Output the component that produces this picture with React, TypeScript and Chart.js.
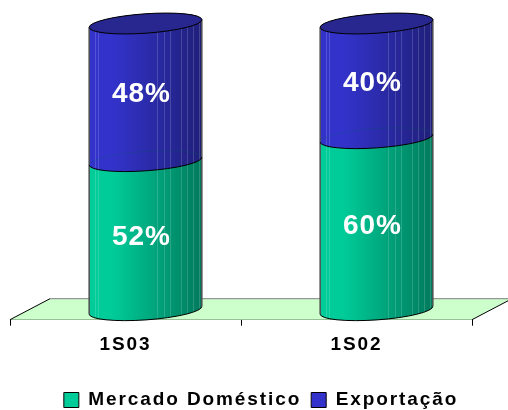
import React, { useEffect, useRef } from "react";
import { Chart, registerables } from "chart.js";

Chart.register(...registerables);

const categories = ["1S03", "1S02"];
const mercadoDomestico = [52, 60];
const exportacao = [48, 40];
const seriesNames = ["Mercado Doméstico", "Exportação"];
const seriesColors = ["#00cc99", "#3333cc"];
const shadeDark = ["#007a5c", "#1f1f7a"];
const capColor = "#27278f";

const FONT = '"Liberation Sans", Arial, sans-serif';
const DEPTH_X = 40;
const DEPTH_Y = 21;
const LINE_OFFSETS = [0.05, 0.08, 0.6, 0.66, 0.72, 0.81, 0.87, 0.92, 0.97];
const SPACING = "1.9px";

function setSpacing(ctx: any, s: string) {
  ctx.letterSpacing = s;
}

function drawCylinders(chart: any, i: number, last: boolean) {
  const { ctx } = chart;
  const meta = chart.getDatasetMeta(i);
  const dx = DEPTH_X / 2;
  const dy = -DEPTH_Y / 2 + 1;
  for (const bar of meta.data) {
    const p = bar.getProps(["x", "y", "base", "width"], true);
    const cx = p.x + dx;
    const rx = p.width / 2;
    const ry = 9.7;
    const rot = (-4 * Math.PI) / 180;
    const top = p.y + dy;
    const bot = p.base + dy;
    const g = ctx.createLinearGradient(cx - rx, 0, cx + rx, 0);
    g.addColorStop(0, seriesColors[i]);
    g.addColorStop(0.2, seriesColors[i]);
    g.addColorStop(1, shadeDark[i]);
    ctx.save();
    ctx.beginPath();
    ctx.ellipse(cx, top, rx, ry, rot, Math.PI, 2 * Math.PI);
    ctx.ellipse(cx, bot, rx, ry, rot, 0, Math.PI);
    ctx.closePath();
    ctx.fillStyle = g;
    ctx.fill();
    ctx.clip();
    ctx.strokeStyle = "rgba(255,255,255,0.16)";
    ctx.lineWidth = 1;
    ctx.beginPath();
    for (const f of LINE_OFFSETS) {
      const x = Math.round(cx - rx + f * 2 * rx) + 0.5;
      ctx.moveTo(x, top - 20);
      ctx.lineTo(x, bot + 20);
    }
    ctx.stroke();
    ctx.restore();

    ctx.save();
    ctx.lineWidth = 1;
    ctx.strokeStyle = "#000";
    ctx.beginPath();
    ctx.ellipse(cx, bot, rx, ry, rot, 0, Math.PI);
    ctx.stroke();
    if (i > 0) {
      ctx.strokeStyle = "rgba(0,90,90,0.25)";
      ctx.beginPath();
      ctx.ellipse(cx, bot, rx, ry, rot, Math.PI, 2 * Math.PI);
      ctx.stroke();
    }
    ctx.strokeStyle = "#505050";
    ctx.lineWidth = 1.5;
    const c = Math.cos(rot) * rx;
    const s = Math.sin(rot) * rx;
    ctx.beginPath();
    ctx.moveTo(cx - c, top - s);
    ctx.lineTo(cx - c, bot - s);
    ctx.moveTo(cx + c, top + s);
    ctx.lineTo(cx + c, bot + s);
    ctx.stroke();
    if (last) {
      ctx.beginPath();
      ctx.ellipse(cx, top, rx, ry, rot, 0, 2 * Math.PI);
      ctx.fillStyle = capColor;
      ctx.fill();
      ctx.lineWidth = 1;
      ctx.strokeStyle = "#000";
      ctx.stroke();
    }
    ctx.restore();
  }
}

const cylinderPlugin = {
  id: "cylinder",
  beforeLayout(chart: any) {
    setSpacing(chart.ctx, SPACING);
  },
  afterLayout(chart: any) {
    const l = chart.legend;
    if (l) {
      l.left += 20;
      l.right += 20;
      l.top += 16;
      l.bottom += 16;
    }
  },
  beforeDraw(chart: any) {
    setSpacing(chart.ctx, SPACING);
  },
  beforeDatasetsDraw(chart: any) {
    const { ctx, chartArea: a } = chart;
    ctx.save();
    ctx.beginPath();
    ctx.moveTo(a.left, a.bottom);
    ctx.lineTo(a.left + DEPTH_X, a.bottom - DEPTH_Y);
    ctx.lineTo(a.right + DEPTH_X, a.bottom - DEPTH_Y);
    ctx.lineTo(a.right, a.bottom);
    ctx.closePath();
    ctx.fillStyle = "#ccffcc";
    ctx.fill();
    ctx.lineWidth = 1;
    ctx.strokeStyle = "#808080";
    ctx.beginPath();
    ctx.moveTo(a.left + DEPTH_X, a.bottom - DEPTH_Y);
    ctx.lineTo(a.right + DEPTH_X, a.bottom - DEPTH_Y);
    ctx.stroke();
    ctx.strokeStyle = "#000";
    ctx.beginPath();
    ctx.moveTo(a.left, a.bottom);
    ctx.lineTo(a.left + DEPTH_X, a.bottom - DEPTH_Y);
    ctx.moveTo(a.right, a.bottom);
    ctx.lineTo(a.right + DEPTH_X, a.bottom - DEPTH_Y);
    ctx.stroke();
    ctx.restore();
    const n = chart.data.datasets.length;
    for (let i = 0; i < n; i++) drawCylinders(chart, i, i === n - 1);
  },
  beforeDatasetDraw() {
    return false;
  },
  afterDatasetsDraw(chart: any) {
    const { ctx } = chart;
    const dx = DEPTH_X / 2 - 4;
    const dy = -DEPTH_Y / 2 + 1;
    ctx.save();
    setSpacing(ctx, "1px");
    ctx.font = `bold 28px ${FONT}`;
    ctx.fillStyle = "#fff";
    ctx.textAlign = "center";
    ctx.textBaseline = "middle";
    chart.data.datasets.forEach((ds: any, i: number) => {
      chart.getDatasetMeta(i).data.forEach((bar: any, j: number) => {
        const p = bar.getProps(["x", "y", "base"], true);
        ctx.fillText(`${ds.data[j]}%`, p.x + dx, (p.y + p.base) / 2 + dy + 2);
      });
    });
    ctx.restore();
    setSpacing(ctx, SPACING);
  },
};

export default function App() {
  const ref = useRef<HTMLCanvasElement>(null);
  useEffect(() => {
    document.body.style.margin = "0";
    const chart = new Chart(ref.current as HTMLCanvasElement, {
      type: "bar",
      plugins: [cylinderPlugin],
      data: {
        labels: categories,
        datasets: [
          {
            label: seriesNames[0],
            data: mercadoDomestico,
            backgroundColor: seriesColors[0],
            borderColor: "#000",
            borderWidth: 1,
          },
          {
            label: seriesNames[1],
            data: exportacao,
            backgroundColor: seriesColors[1],
            borderColor: "#000",
            borderWidth: 1,
          },
        ],
      },
      options: {
        animation: false,
        responsive: false,
        devicePixelRatio: 1,
        datasets: { bar: { categoryPercentage: 1, barPercentage: 0.489 } },
        layout: { padding: { left: 10, right: 36, top: 33, bottom: 6.5 } },
        scales: {
          x: {
            stacked: true,
            grid: {
              offset: true,
              drawOnChartArea: false,
              drawTicks: true,
              tickLength: 6,
              color: "#000",
            },
            border: { display: true, color: "#000", width: 1 },
            ticks: {
              color: "#000",
              maxRotation: 0,
              padding: 8,
              font: { family: FONT, size: 19, weight: "bold" },
            },
          },
          y: { stacked: true, display: false, min: 0, max: 100 },
        },
        plugins: {
          tooltip: { enabled: false },
          legend: {
            display: true,
            position: "bottom",
            labels: {
              color: "#000",
              boxWidth: 15,
              boxHeight: 15,
              padding: 10,
              font: { family: FONT, size: 19, weight: "bold" },
            },
          },
        },
      } as any,
    });
    return () => chart.destroy();
  }, []);
  return (
    <canvas
      ref={ref}
      width={508}
      height={410}
      style={{ position: "absolute", left: 0, top: 0, display: "block" }}
    />
  );
}
